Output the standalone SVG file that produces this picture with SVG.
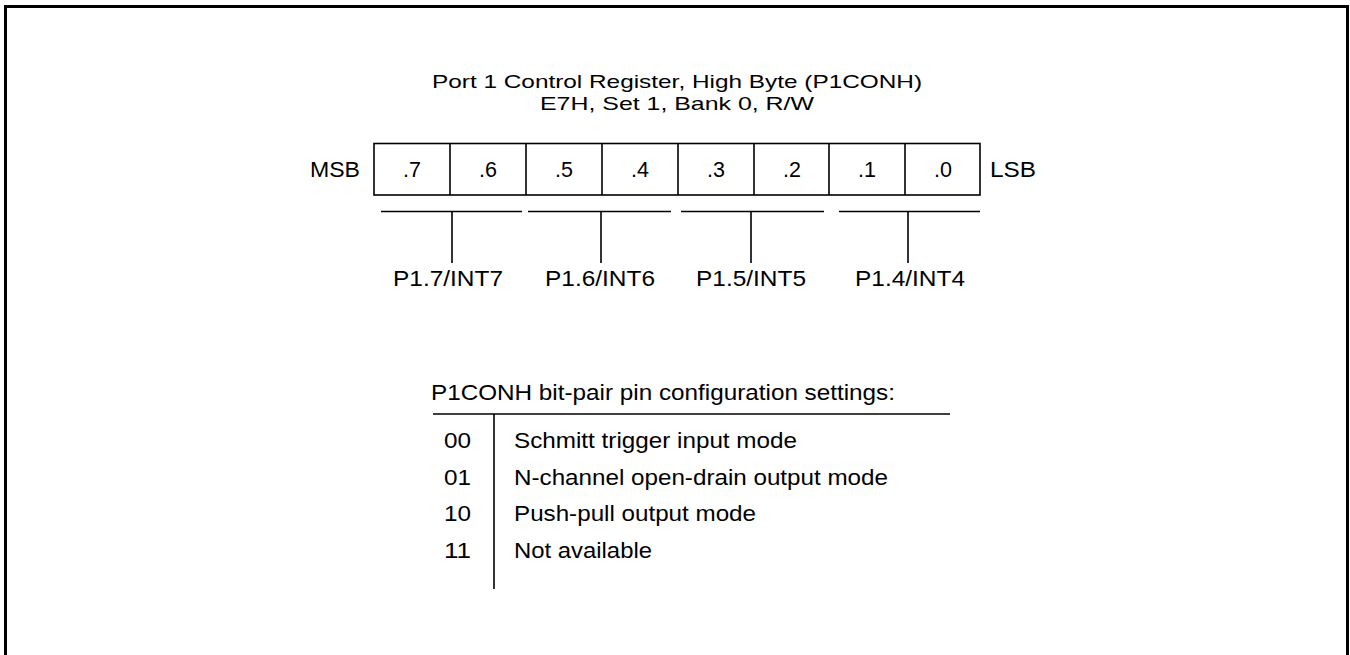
<svg xmlns="http://www.w3.org/2000/svg" width="1350" height="655" viewBox="0 0 1350 655">
<style>
text{font-family:"Liberation Sans",Arial,sans-serif;font-size:21.5px;fill:#000}
.t{font-size:19px}
.ln{stroke:#000;stroke-width:1.6;fill:none}
.c{text-anchor:middle}
.e{text-anchor:end}
</style>
<rect x="0" y="0" width="1350" height="655" fill="#fff"/>
<rect x="5.5" y="6.5" width="1342" height="700" fill="none" stroke="#000" stroke-width="3"/>
<g id="title">
<text class="c t" x="677" y="88" textLength="490" lengthAdjust="spacingAndGlyphs">Port 1 Control Register, High Byte (P1CONH)</text>
<text class="c t" x="677" y="110" textLength="274" lengthAdjust="spacingAndGlyphs">E7H, Set 1, Bank 0, R/W</text>
</g>
<g id="register">
<text x="310" y="177" textLength="50" lengthAdjust="spacingAndGlyphs">MSB</text>
<text x="990" y="177" textLength="46" lengthAdjust="spacingAndGlyphs">LSB</text>
<rect class="ln" x="374" y="143.5" width="606" height="51.5"/>
<path class="ln" d="M450,143.5V195M526,143.5V195M602,143.5V195M678,143.5V195M754,143.5V195M829,143.5V195M905,143.5V195"/>
<text class="c" x="412" y="177">.7</text>
<text class="c" x="488" y="177">.6</text>
<text class="c" x="564" y="177">.5</text>
<text class="c" x="640" y="177">.4</text>
<text class="c" x="716" y="177">.3</text>
<text class="c" x="792" y="177">.2</text>
<text class="c" x="867" y="177">.1</text>
<text class="c" x="943" y="177">.0</text>
</g>
<g id="connectors">
<path class="ln" d="M381,211.5H522M452,211.5V263"/>
<path class="ln" d="M528,211.5H671M601,211.5V263"/>
<path class="ln" d="M681,211.5H824M751,211.5V263"/>
<path class="ln" d="M839,211.5H980M908,211.5V263"/>
</g>
<g id="pins">
<text class="c" x="448" y="286" textLength="110" lengthAdjust="spacingAndGlyphs">P1.7/INT7</text>
<text class="c" x="600" y="286" textLength="110" lengthAdjust="spacingAndGlyphs">P1.6/INT6</text>
<text class="c" x="751" y="286" textLength="110" lengthAdjust="spacingAndGlyphs">P1.5/INT5</text>
<text class="c" x="910" y="286" textLength="110" lengthAdjust="spacingAndGlyphs">P1.4/INT4</text>
</g>
<g id="settings">
<text x="431" y="400" textLength="464" lengthAdjust="spacingAndGlyphs">P1CONH bit-pair pin configuration settings:</text>
<path class="ln" d="M433,414H950M494,414V589"/>
<text x="444" y="448" textLength="27" lengthAdjust="spacingAndGlyphs">00</text>
<text x="444" y="484.7" textLength="27" lengthAdjust="spacingAndGlyphs">01</text>
<text x="444" y="521.3" textLength="27" lengthAdjust="spacingAndGlyphs">10</text>
<text x="444" y="558" textLength="27" lengthAdjust="spacingAndGlyphs">11</text>
<text x="514" y="448" textLength="283" lengthAdjust="spacingAndGlyphs">Schmitt trigger input mode</text>
<text x="514" y="484.7" textLength="374" lengthAdjust="spacingAndGlyphs">N-channel open-drain output mode</text>
<text x="514" y="521.3" textLength="242" lengthAdjust="spacingAndGlyphs">Push-pull output mode</text>
<text x="514" y="558" textLength="138" lengthAdjust="spacingAndGlyphs">Not available</text>
</g>
</svg>
